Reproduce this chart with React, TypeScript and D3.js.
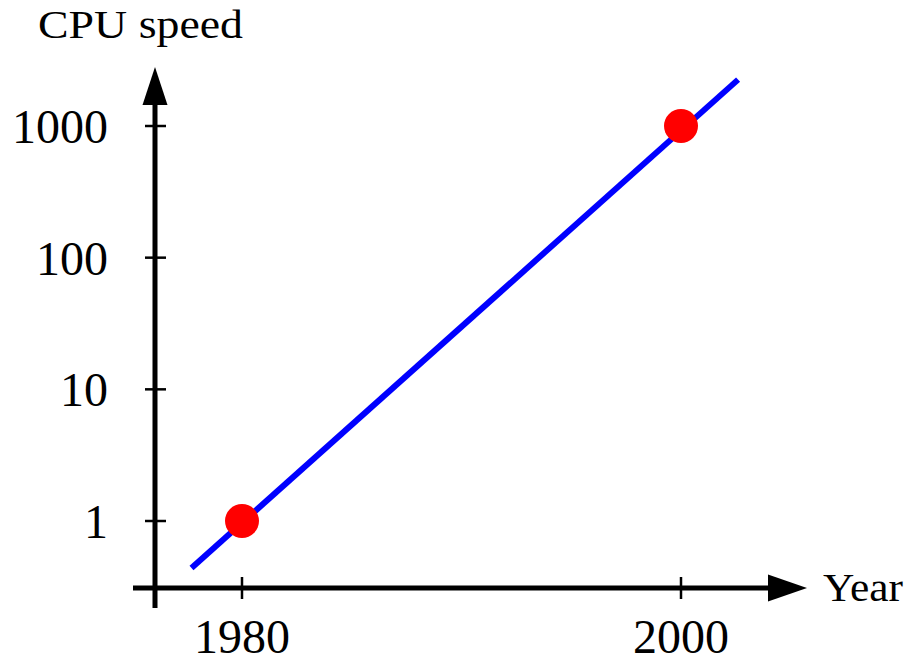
import { useMemo } from 'react';
import * as d3 from 'd3';

// Data
const pointYears = [1980, 2000];
const pointSpeeds = [1, 1000];
const lineYears = [1977.7, 2002.6];
const lineSpeeds = [0.44, 2250];
const xTicks = [1980, 2000];
const yTicks = [1, 10, 100, 1000];

const WIDTH = 907;
const HEIGHT = 658;
const FONT = '"Liberation Serif", "DejaVu Serif", serif';

export default function App() {
  const x = useMemo(() => d3.scaleLinear().domain([1980, 2000]).range([242, 681]), []);
  const y = useMemo(() => d3.scaleLog().domain([1, 1000]).range([521, 126]), []);

  const axisX = 155;
  const axisY = 588;

  const line = d3
    .line<number>()
    .x((_, i) => x(lineYears[i]))
    .y((_, i) => y(lineSpeeds[i]));

  return (
    <svg
      width={WIDTH}
      height={HEIGHT}
      viewBox={`0 0 ${WIDTH} ${HEIGHT}`}
      style={{ position: 'absolute', left: 0, top: 0, background: '#fff' }}
      fontFamily={FONT}
    >
      {/* axes */}
      <line x1={133} y1={axisY} x2={772} y2={axisY} stroke="#000" strokeWidth={5} />
      <path d={`M807,${axisY} L768,${axisY - 13.5} L768,${axisY + 13.5} Z`} fill="#000" />
      <line x1={axisX} y1={608} x2={axisX} y2={100} stroke="#000" strokeWidth={5} />
      <path d={`M${axisX},67 L${axisX - 12.5},105 L${axisX + 12.5},105 Z`} fill="#000" />

      {/* x ticks */}
      {xTicks.map((t) => (
        <g key={t}>
          <line x1={x(t)} x2={x(t)} y1={577} y2={599} stroke="#000" strokeWidth={2.5} />
          <text x={x(t)} y={653} textAnchor="middle" fontSize={48}>
            {t}
          </text>
        </g>
      ))}

      {/* y ticks */}
      {yTicks.map((t) => (
        <g key={t}>
          <line x1={145} x2={166} y1={y(t)} y2={y(t)} stroke="#000" strokeWidth={2.5} />
          <text x={108} y={y(t) + 17} textAnchor="end" fontSize={48}>
            {t}
          </text>
        </g>
      ))}

      {/* line */}
      <path d={line(lineYears) ?? ''} fill="none" stroke="#0000ff" strokeWidth={6} />

      {/* points */}
      {pointYears.map((yr, i) => (
        <circle key={yr} cx={x(yr)} cy={y(pointSpeeds[i])} r={17} fill="#ff0000" />
      ))}

      {/* labels */}
      <text x={38} y={38} fontSize={40} textLength={205} lengthAdjust="spacingAndGlyphs">
        CPU speed
      </text>
      <text x={823} y={601} fontSize={40} textLength={80} lengthAdjust="spacingAndGlyphs">
        Year
      </text>
    </svg>
  );
}
